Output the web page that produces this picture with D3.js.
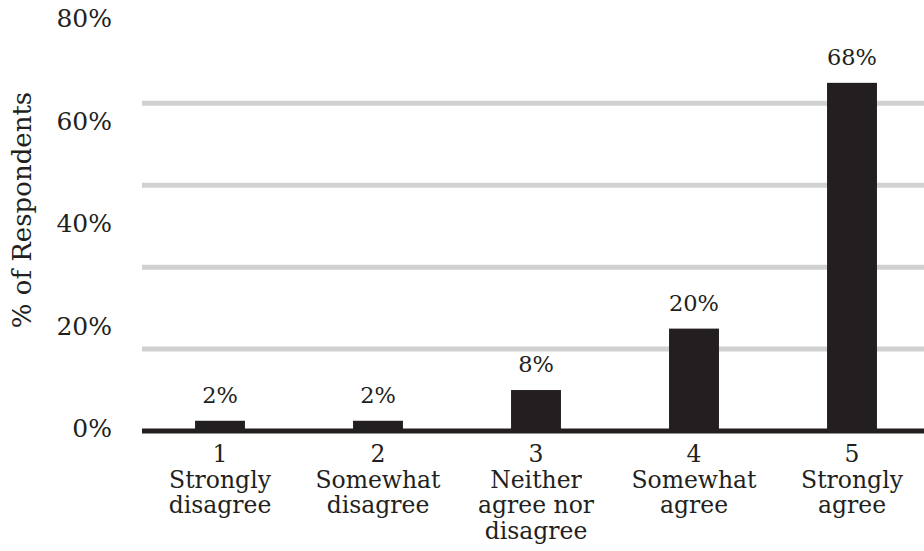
<!DOCTYPE html>
<html>
<head>
<meta charset="utf-8">
<script src="https://cdn.jsdelivr.net/npm/d3@7/dist/d3.min.js"></script>
<style>
  html, body { margin: 0; padding: 0; background: #fff; }
  svg { display: block; }
  text { font-family: "DejaVu Serif", "Liberation Serif", serif; fill: #231f20; }
</style>
</head>
<body>
<div id="chart"></div>
<script>
// ---- data ----
const codes = ["1", "2", "3", "4", "5"];
const categoryLines = [
  ["1", "Strongly", "disagree"],
  ["2", "Somewhat", "disagree"],
  ["3", "Neither", "agree nor", "disagree"],
  ["4", "Somewhat", "agree"],
  ["5", "Strongly", "agree"]
];
const values = [2, 2, 8, 20, 68];
const tickValues = [0, 20, 40, 60, 80];
const gridValues = [16, 32, 48, 64];
const yTitle = "% of Respondents";

// ---- layout ----
const W = 924, H = 551;
const svg = d3.select("#chart").append("svg").attr("width", W).attr("height", H);

const x = d3.scaleBand().domain(codes).range([141, 931]).paddingInner(0.684).paddingOuter(0.342);
const y = d3.scaleLinear().domain([0, 80]).range([431, 21.4]);

const plotLeft = 142, plotRight = W;

// gridlines
svg.append("g").selectAll("line").data(gridValues).join("line")
  .attr("x1", plotLeft).attr("x2", plotRight)
  .attr("y1", d => y(d)).attr("y2", d => y(d))
  .attr("stroke", "#d1d1d1").attr("stroke-width", 5);

// bars
svg.append("g").selectAll("rect").data(values).join("rect")
  .attr("x", (d, i) => x(codes[i]))
  .attr("width", x.bandwidth())
  .attr("y", d => y(d))
  .attr("height", d => y(0) - y(d))
  .attr("fill", "#231f20");

// baseline
svg.append("line")
  .attr("x1", plotLeft).attr("x2", plotRight)
  .attr("y1", y(0)).attr("y2", y(0))
  .attr("stroke", "#231f20").attr("stroke-width", 5);

// y axis labels
const yAxis = d3.axisLeft(y).tickValues(tickValues).tickFormat(d => d + "%").tickSize(0).tickPadding(30);
const gy = svg.append("g").attr("transform", `translate(${plotLeft},0)`).call(yAxis);
gy.select(".domain").remove();
gy.selectAll("text")
  .attr("dy", "0.22em")
  .style("font-family", '"DejaVu Serif", serif')
  .style("font-size", "25px")
  .attr("fill", "#231f20");

// value labels
svg.append("g").selectAll("text").data(values).join("text")
  .attr("x", (d, i) => x(codes[i]) + x.bandwidth() / 2)
  .attr("y", d => y(d) - 18)
  .attr("text-anchor", "middle")
  .style("font-size", "22.5px")
  .text(d => d + "%");

// category labels
const cat = svg.append("g").selectAll("text").data(categoryLines).join("text")
  .attr("text-anchor", "middle")
  .style("font-size", "23.5px")
  .attr("transform", (d, i) => `translate(${x(codes[i]) + x.bandwidth() / 2},462)`);
cat.selectAll("tspan").data(d => d).join("tspan")
  .attr("x", 0)
  .attr("y", (d, i) => i * 25.6)
  .text(d => d);

// y title
svg.append("text")
  .attr("transform", "translate(31,210) rotate(-90)")
  .attr("text-anchor", "middle")
  .style("font-size", "26px")
  .text(yTitle);
</script>
</body>
</html>
